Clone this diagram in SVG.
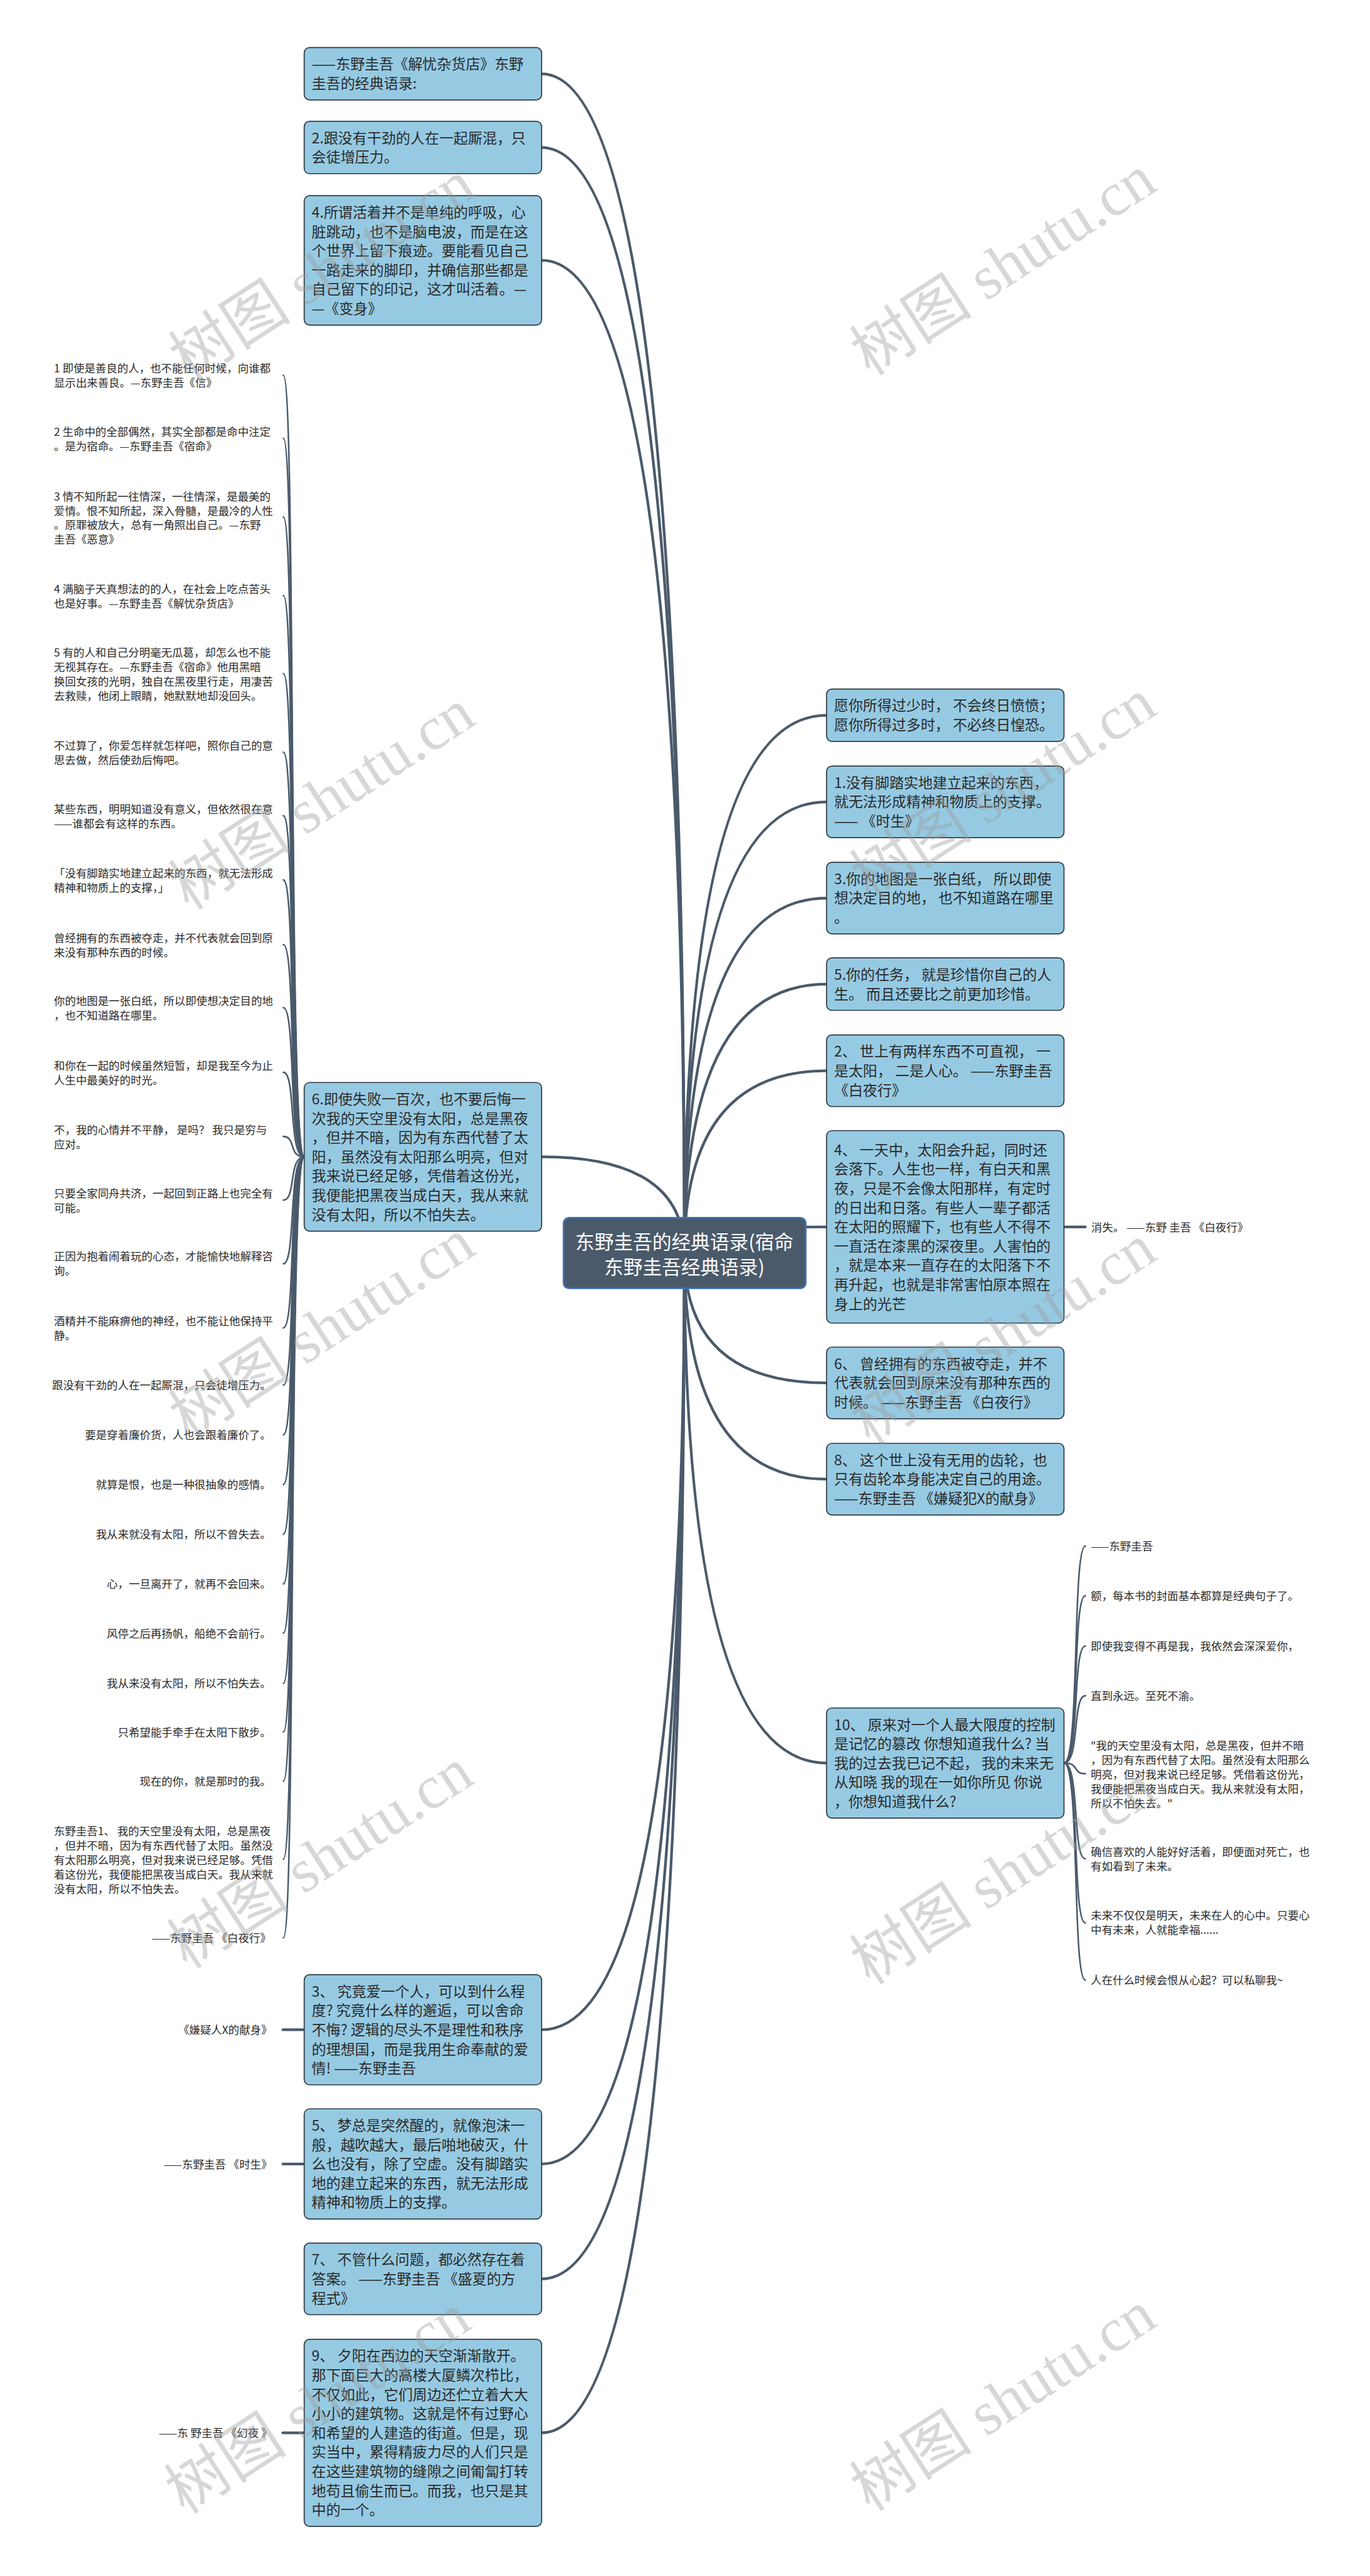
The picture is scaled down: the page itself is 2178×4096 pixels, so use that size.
<svg xmlns="http://www.w3.org/2000/svg" width="2178" height="4096" viewBox="0 0 2178 4096">
<defs>
<style>
.box{fill:#96cae3;stroke:#2f3a44;stroke-width:2}
.root{fill:#4a5a6a;stroke:#3b72b8;stroke-width:3}
.t{font-family:"Noto Sans CJK SC","Liberation Sans",sans-serif;font-size:27px;fill:#2a2a2a}
.rt{font-family:"Noto Sans CJK SC","Liberation Sans",sans-serif;font-size:36px;fill:#ffffff;text-anchor:middle}
.l{font-family:"Noto Sans CJK SC","Liberation Sans",sans-serif;font-size:20.5px;fill:#2a2a2a}
.e{text-anchor:end}
.c{fill:none;stroke:#4a5a6b;stroke-width:5;stroke-linecap:round}
.lc{fill:none;stroke:#4a5a6b;stroke-width:3;stroke-linecap:round}
.wm{font-family:"Liberation Serif","Noto Sans CJK SC",serif;font-size:115px;fill:#9a9a9a;fill-opacity:0.4}
</style>
</defs>
<rect width="2178" height="4096" fill="#ffffff"/>
<g transform="scale(0.85)">
<g id="connectors">
<path class="c" d="M1280 2344 Q1280 138 1013 138"/>
<path class="c" d="M1280 2344 Q1280 276 1013 276"/>
<path class="c" d="M1280 2344 Q1280 487 1013 487"/>
<path class="c" d="M1280 2344 Q1280 2164 1013 2164"/>
<path class="c" d="M1280 2344 Q1280 3797 1013 3797"/>
<path class="c" d="M1280 2344 Q1280 4048 1013 4048"/>
<path class="c" d="M1280 2344 Q1280 4263 1013 4263"/>
<path class="c" d="M1280 2344 Q1280 4551 1013 4551"/>
<path class="c" d="M1280 2344 Q1280 1338 1546 1338"/>
<path class="c" d="M1280 2344 Q1280 1500 1546 1500"/>
<path class="c" d="M1280 2344 Q1280 1680 1546 1680"/>
<path class="c" d="M1280 2344 Q1280 1841 1546 1841"/>
<path class="c" d="M1280 2344 Q1280 2003 1546 2003"/>
<path class="c" d="M1280 2344 Q1280 2295 1546 2295"/>
<path class="c" d="M1280 2344 Q1280 2587 1546 2587"/>
<path class="c" d="M1280 2344 Q1280 2767 1546 2767"/>
<path class="c" d="M1280 2344 Q1280 3298 1546 3298"/>
<path class="c" d="M1990 2295 L2030 2295"/>
<path class="c" d="M569 3797 L529 3797"/>
<path class="c" d="M569 4048 L529 4048"/>
<path class="c" d="M569 4551 L529 4551"/>
<path class="lc" d="M569 2164 C539 2164 554 702 530 702"/>
<path class="lc" d="M569 2164 C539 2164 554 820 530 820"/>
<path class="lc" d="M569 2164 C539 2164 554 967 530 967"/>
<path class="lc" d="M569 2164 C539 2164 554 1114 530 1114"/>
<path class="lc" d="M569 2164 C539 2164 554 1260 530 1260"/>
<path class="lc" d="M569 2164 C539 2164 554 1407 530 1407"/>
<path class="lc" d="M569 2164 C539 2164 554 1526 530 1526"/>
<path class="lc" d="M569 2164 C539 2164 554 1646 530 1646"/>
<path class="lc" d="M569 2164 C539 2164 554 1767 530 1767"/>
<path class="lc" d="M569 2164 C539 2164 554 1885 530 1885"/>
<path class="lc" d="M569 2164 C539 2164 554 2006 530 2006"/>
<path class="lc" d="M569 2164 C539 2164 554 2126 530 2126"/>
<path class="lc" d="M569 2164 C539 2164 554 2245 530 2245"/>
<path class="lc" d="M569 2164 C539 2164 554 2364 530 2364"/>
<path class="lc" d="M569 2164 C539 2164 554 2484 530 2484"/>
<path class="lc" d="M569 2164 C539 2164 554 2591 530 2591"/>
<path class="lc" d="M569 2164 C539 2164 554 2684 530 2684"/>
<path class="lc" d="M569 2164 C539 2164 554 2777 530 2777"/>
<path class="lc" d="M569 2164 C539 2164 554 2870 530 2870"/>
<path class="lc" d="M569 2164 C539 2164 554 2963 530 2963"/>
<path class="lc" d="M569 2164 C539 2164 554 3055 530 3055"/>
<path class="lc" d="M569 2164 C539 2164 554 3149 530 3149"/>
<path class="lc" d="M569 2164 C539 2164 554 3240 530 3240"/>
<path class="lc" d="M569 2164 C539 2164 554 3332 530 3332"/>
<path class="lc" d="M569 2164 C539 2164 554 3478 530 3478"/>
<path class="lc" d="M569 2164 C539 2164 554 3625 530 3625"/>
<path class="lc" d="M1990 3298 C2020 3298 2005 2892 2030 2892"/>
<path class="lc" d="M1990 3298 C2020 3298 2005 2985 2030 2985"/>
<path class="lc" d="M1990 3298 C2020 3298 2005 3079 2030 3079"/>
<path class="lc" d="M1990 3298 C2020 3298 2005 3172 2030 3172"/>
<path class="lc" d="M1990 3298 C2020 3298 2005 3318 2030 3318"/>
<path class="lc" d="M1990 3298 C2020 3298 2005 3477 2030 3477"/>
<path class="lc" d="M1990 3298 C2020 3298 2005 3597 2030 3597"/>
<path class="lc" d="M1990 3298 C2020 3298 2005 3704 2030 3704"/>
</g>

<g id="root">
<rect class="root" x="1054" y="2278" width="453" height="132" rx="10"/>
<text class="rt" x="1280" y="2337">东野圭吾的经典语录(宿命</text>
<text class="rt" x="1280" y="2384">东野圭吾经典语录)</text>
</g>

<g id="nodeA">
<rect class="box" x="569" y="89" width="444" height="98" rx="10"/>
<text class="t" x="583" y="130">——东野圭吾《解忧杂货店》东野</text>
<text class="t" x="583" y="166">圭吾的经典语录:</text>
</g>
<g id="nodeB">
<rect class="box" x="569" y="227" width="444" height="98" rx="10"/>
<text class="t" x="583" y="268">2.跟没有干劲的人在一起厮混，只</text>
<text class="t" x="583" y="304">会徒增压力。</text>
</g>
<g id="nodeC">
<rect class="box" x="569" y="366" width="444" height="242" rx="10"/>
<text class="t" x="583" y="407">4.所谓活着并不是单纯的呼吸，心</text>
<text class="t" x="583" y="443">脏跳动，也不是脑电波，而是在这</text>
<text class="t" x="583" y="479">个世界上留下痕迹。要能看见自己</text>
<text class="t" x="583" y="515">一路走来的脚印，并确信那些都是</text>
<text class="t" x="583" y="551">自己留下的印记，这才叫活着。—</text>
<text class="t" x="583" y="587">—《变身》</text>
</g>
<g id="node6">
<rect class="box" x="569" y="2025" width="444" height="278" rx="10"/>
<text class="t" x="583" y="2066">6.即使失败一百次，也不要后悔一</text>
<text class="t" x="583" y="2102">次我的天空里没有太阳，总是黑夜</text>
<text class="t" x="583" y="2138">，但并不暗，因为有东西代替了太</text>
<text class="t" x="583" y="2174">阳，虽然没有太阳那么明亮，但对</text>
<text class="t" x="583" y="2210">我来说已经足够，凭借着这份光，</text>
<text class="t" x="583" y="2246">我便能把黑夜当成白天，我从来就</text>
<text class="t" x="583" y="2282">没有太阳，所以不怕失去。</text>
</g>
<g id="node3">
<rect class="box" x="569" y="3694" width="444" height="206" rx="10"/>
<text class="t" x="583" y="3735">3、 究竟爱一个人，可以到什么程</text>
<text class="t" x="583" y="3771">度? 究竟什么样的邂逅，可以舍命</text>
<text class="t" x="583" y="3807">不悔? 逻辑的尽头不是理性和秩序</text>
<text class="t" x="583" y="3843">的理想国，而是我用生命奉献的爱</text>
<text class="t" x="583" y="3879">情! ——东野圭吾</text>
</g>
<g id="node5">
<rect class="box" x="569" y="3945" width="444" height="206" rx="10"/>
<text class="t" x="583" y="3986">5、 梦总是突然醒的，就像泡沫一</text>
<text class="t" x="583" y="4022">般，越吹越大，最后啪地破灭，什</text>
<text class="t" x="583" y="4058">么也没有，除了空虚。没有脚踏实</text>
<text class="t" x="583" y="4094">地的建立起来的东西，就无法形成</text>
<text class="t" x="583" y="4130">精神和物质上的支撑。</text>
</g>
<g id="node7">
<rect class="box" x="569" y="4196" width="444" height="134" rx="10"/>
<text class="t" x="583" y="4237">7、 不管什么问题，都必然存在着</text>
<text class="t" x="583" y="4273">答案。 ——东野圭吾 《盛夏的方</text>
<text class="t" x="583" y="4309">程式》</text>
</g>
<g id="node9">
<rect class="box" x="569" y="4376" width="444" height="350" rx="10"/>
<text class="t" x="583" y="4417">9、 夕阳在西边的天空渐渐散开。</text>
<text class="t" x="583" y="4453">那下面巨大的高楼大厦鳞次栉比，</text>
<text class="t" x="583" y="4489">不仅如此，它们周边还伫立着大大</text>
<text class="t" x="583" y="4525">小小的建筑物。这就是怀有过野心</text>
<text class="t" x="583" y="4561">和希望的人建造的街道。但是，现</text>
<text class="t" x="583" y="4597">实当中，累得精疲力尽的人们只是</text>
<text class="t" x="583" y="4633">在这些建筑物的缝隙之间匍匐打转</text>
<text class="t" x="583" y="4669">地苟且偷生而已。而我，也只是其</text>
<text class="t" x="583" y="4705">中的一个。</text>
</g>

<g id="nodeR1">
<rect class="box" x="1546" y="1289" width="444" height="98" rx="10"/>
<text class="t" x="1560" y="1330">愿你所得过少时， 不会终日愤愤；</text>
<text class="t" x="1560" y="1366">愿你所得过多时， 不必终日惶恐。</text>
</g>
<g id="nodeR2">
<rect class="box" x="1546" y="1433" width="444" height="134" rx="10"/>
<text class="t" x="1560" y="1474">1.没有脚踏实地建立起来的东西，</text>
<text class="t" x="1560" y="1510">就无法形成精神和物质上的支撑。</text>
<text class="t" x="1560" y="1546">—— 《时生》</text>
</g>
<g id="nodeR3">
<rect class="box" x="1546" y="1613" width="444" height="134" rx="10"/>
<text class="t" x="1560" y="1654">3.你的地图是一张白纸， 所以即使</text>
<text class="t" x="1560" y="1690">想决定目的地， 也不知道路在哪里</text>
<text class="t" x="1560" y="1726">。</text>
</g>
<g id="nodeR4">
<rect class="box" x="1546" y="1792" width="444" height="98" rx="10"/>
<text class="t" x="1560" y="1833">5.你的任务， 就是珍惜你自己的人</text>
<text class="t" x="1560" y="1869">生。 而且还要比之前更加珍惜。</text>
</g>
<g id="nodeR5">
<rect class="box" x="1546" y="1936" width="444" height="134" rx="10"/>
<text class="t" x="1560" y="1977">2、 世上有两样东西不可直视， 一</text>
<text class="t" x="1560" y="2013">是太阳， 二是人心。 ——东野圭吾</text>
<text class="t" x="1560" y="2049"> 《白夜行》</text>
</g>
<g id="nodeR6">
<rect class="box" x="1546" y="2115" width="444" height="360" rx="10"/>
<text class="t" x="1560" y="2161">4、 一天中，太阳会升起，同时还</text>
<text class="t" x="1560" y="2197">会落下。人生也一样，有白天和黑</text>
<text class="t" x="1560" y="2233">夜，只是不会像太阳那样，有定时</text>
<text class="t" x="1560" y="2269">的日出和日落。有些人一辈子都活</text>
<text class="t" x="1560" y="2305">在太阳的照耀下，也有些人不得不</text>
<text class="t" x="1560" y="2341">一直活在漆黑的深夜里。人害怕的</text>
<text class="t" x="1560" y="2377">，就是本来一直存在的太阳落下不</text>
<text class="t" x="1560" y="2413">再升起，也就是非常害怕原本照在</text>
<text class="t" x="1560" y="2449">身上的光芒</text>
</g>
<g id="nodeR7">
<rect class="box" x="1546" y="2520" width="444" height="134" rx="10"/>
<text class="t" x="1560" y="2561">6、 曾经拥有的东西被夺走，并不</text>
<text class="t" x="1560" y="2597">代表就会回到原来没有那种东西的</text>
<text class="t" x="1560" y="2633">时候。 ——东野圭吾 《白夜行》</text>
</g>
<g id="nodeR8">
<rect class="box" x="1546" y="2700" width="444" height="134" rx="10"/>
<text class="t" x="1560" y="2741">8、 这个世上没有无用的齿轮，也</text>
<text class="t" x="1560" y="2777">只有齿轮本身能决定自己的用途。</text>
<text class="t" x="1560" y="2813">——东野圭吾 《嫌疑犯X的献身》</text>
</g>
<g id="nodeR9">
<rect class="box" x="1546" y="3195" width="444" height="206" rx="10"/>
<text class="t" x="1560" y="3236">10、 原来对一个人最大限度的控制</text>
<text class="t" x="1560" y="3272">是记忆的篡改 你想知道我什么? 当</text>
<text class="t" x="1560" y="3308">我的过去我已记不起， 我的未来无</text>
<text class="t" x="1560" y="3344">从知晓 我的现在一如你所见 你说</text>
<text class="t" x="1560" y="3380">，你想知道我什么?</text>
</g>

<g id="leaf-R6"><text class="l" x="2041" y="2303">消失。 ——东野 圭吾 《白夜行》</text></g>
<g id="leaf-n3"><text class="l e" x="509" y="3805">《嫌疑人X的献身》</text></g>
<g id="leaf-n5"><text class="l e" x="509" y="4056">——东野圭吾 《时生》</text></g>
<g id="leaf-n9"><text class="l e" x="509" y="4559">——东 野圭吾 《幻夜 》</text></g>

<g id="leaves-R9">
<text class="l" x="2040" y="2900">——东野圭吾</text>
<text class="l" x="2040" y="2993">额，每本书的封面基本都算是经典句子了。</text>
<text class="l" x="2040" y="3087">即使我变得不再是我，我依然会深深爱你，</text>
<text class="l" x="2040" y="3180">直到永远。至死不渝。</text>
<text class="l" x="2040" y="3273">"我的天空里没有太阳，总是黑夜，但并不暗</text>
<text class="l" x="2040" y="3300">，因为有东西代替了太阳。虽然没有太阳那么</text>
<text class="l" x="2040" y="3327">明亮，但对我来说已经足够。凭借着这份光，</text>
<text class="l" x="2040" y="3354">我便能把黑夜当成白天。我从来就没有太阳，</text>
<text class="l" x="2040" y="3381">所以不怕失去。"</text>
<text class="l" x="2040" y="3472">确信喜欢的人能好好活着，即便面对死亡，也</text>
<text class="l" x="2040" y="3499">有如看到了未来。</text>
<text class="l" x="2040" y="3591">未来不仅仅是明天，未来在人的心中。只要心</text>
<text class="l" x="2040" y="3618">中有未来，人就能幸福......</text>
<text class="l" x="2040" y="3712"> 人在什么时候会恨从心起？可以私聊我~</text>
</g>

<g id="leaves-n6">
<text class="l" x="101" y="697">1 即使是善良的人，也不能任何时候，向谁都</text>
<text class="l" x="101" y="724">显示出来善良。—东野圭吾《信》</text>
<text class="l" x="101" y="815">2 生命中的全部偶然，其实全部都是命中注定</text>
<text class="l" x="101" y="842">。是为宿命。—东野圭吾《宿命》</text>
<text class="l" x="101" y="936">3 情不知所起一往情深，一往情深，是最美的</text>
<text class="l" x="101" y="963">爱情。恨不知所起，深入骨髓，是最冷的人性</text>
<text class="l" x="101" y="990">。原罪被放大，总有一角照出自己。—东野</text>
<text class="l" x="101" y="1017">圭吾《恶意》</text>
<text class="l" x="101" y="1109">4 满脑子天真想法的的人，在社会上吃点苦头</text>
<text class="l" x="101" y="1136">也是好事。—东野圭吾《解忧杂货店》</text>
<text class="l" x="101" y="1228">5 有的人和自己分明毫无瓜葛，却怎么也不能</text>
<text class="l" x="101" y="1255">无视其存在。—东野圭吾《宿命》他用黑暗</text>
<text class="l" x="101" y="1282">换回女孩的光明，独自在黑夜里行走，用凄苦</text>
<text class="l" x="101" y="1309">去救赎，他闭上眼睛，她默默地却没回头。</text>
<text class="l" x="101" y="1402">不过算了，你爱怎样就怎样吧，照你自己的意</text>
<text class="l" x="101" y="1429">思去做，然后使劲后悔吧。</text>
<text class="l" x="101" y="1521">某些东西，明明知道没有意义，但依然很在意</text>
<text class="l" x="101" y="1548">——谁都会有这样的东西。</text>
<text class="l" x="101" y="1641">「没有脚踏实地建立起来的东西，就无法形成</text>
<text class="l" x="101" y="1668">精神和物质上的支撑，」</text>
<text class="l" x="101" y="1762">曾经拥有的东西被夺走，并不代表就会回到原</text>
<text class="l" x="101" y="1789">来没有那种东西的时候。</text>
<text class="l" x="101" y="1880">你的地图是一张白纸，所以即使想决定目的地</text>
<text class="l" x="101" y="1907">，也不知道路在哪里。</text>
<text class="l" x="101" y="2001">和你在一起的时候虽然短暂，却是我至今为止</text>
<text class="l" x="101" y="2028">人生中最美好的时光。</text>
<text class="l" x="101" y="2121">不，我的心情并不平静， 是吗？ 我只是穷与</text>
<text class="l" x="101" y="2148">应对。</text>
<text class="l" x="101" y="2240">只要全家同舟共济，一起回到正路上也完全有</text>
<text class="l" x="101" y="2267">可能。</text>
<text class="l" x="101" y="2358">正因为抱着闹着玩的心态，才能愉快地解释咨</text>
<text class="l" x="101" y="2385">询。</text>
<text class="l" x="101" y="2479">酒精并不能麻痹他的神经，也不能让他保持平</text>
<text class="l" x="101" y="2506">静。</text>
<text class="l e" x="507" y="2599">跟没有干劲的人在一起厮混，只会徒增压力。</text>
<text class="l e" x="507" y="2692">要是穿着廉价货，人也会跟着廉价了。</text>
<text class="l e" x="507" y="2785">就算是恨，也是一种很抽象的感情。</text>
<text class="l e" x="507" y="2878">我从来就没有太阳，所以不曾失去。</text>
<text class="l e" x="507" y="2971">心，一旦离开了，就再不会回来。</text>
<text class="l e" x="507" y="3063">风停之后再扬帆，船绝不会前行。</text>
<text class="l e" x="507" y="3157">我从来没有太阳，所以不怕失去。</text>
<text class="l e" x="507" y="3248">只希望能手牵手在太阳下散步。</text>
<text class="l e" x="507" y="3340">现在的你，就是那时的我。</text>
<text class="l" x="101" y="3433">东野圭吾1、 我的天空里没有太阳，总是黑夜</text>
<text class="l" x="101" y="3460">，但并不暗，因为有东西代替了太阳。虽然没</text>
<text class="l" x="101" y="3487">有太阳那么明亮，但对我来说已经足够。凭借</text>
<text class="l" x="101" y="3514">着这份光，我便能把黑夜当成白天。我从来就</text>
<text class="l" x="101" y="3541">没有太阳，所以不怕失去。</text>
<text class="l e" x="507" y="3633">——东野圭吾 《白夜行》</text>
</g>

<g id="watermarks">
<text class="wm" x="353" y="715" transform="rotate(-33 353 715)">树图 shutu.cn</text>
<text class="wm" x="1627" y="705" transform="rotate(-33 1627 705)">树图 shutu.cn</text>
<text class="wm" x="353" y="1704" transform="rotate(-33 353 1704)">树图 shutu.cn</text>
<text class="wm" x="1627" y="1685" transform="rotate(-33 1627 1685)">树图 shutu.cn</text>
<text class="wm" x="353" y="2695" transform="rotate(-33 353 2695)">树图 shutu.cn</text>
<text class="wm" x="1627" y="2705" transform="rotate(-33 1627 2705)">树图 shutu.cn</text>
<text class="wm" x="350" y="3685" transform="rotate(-33 350 3685)">树图 shutu.cn</text>
<text class="wm" x="1627" y="3715" transform="rotate(-33 1627 3715)">树图 shutu.cn</text>
<text class="wm" x="345" y="4705" transform="rotate(-33 345 4705)">树图 shutu.cn</text>
<text class="wm" x="1627" y="4700" transform="rotate(-33 1627 4700)">树图 shutu.cn</text>
</g>
</g>
</svg>
